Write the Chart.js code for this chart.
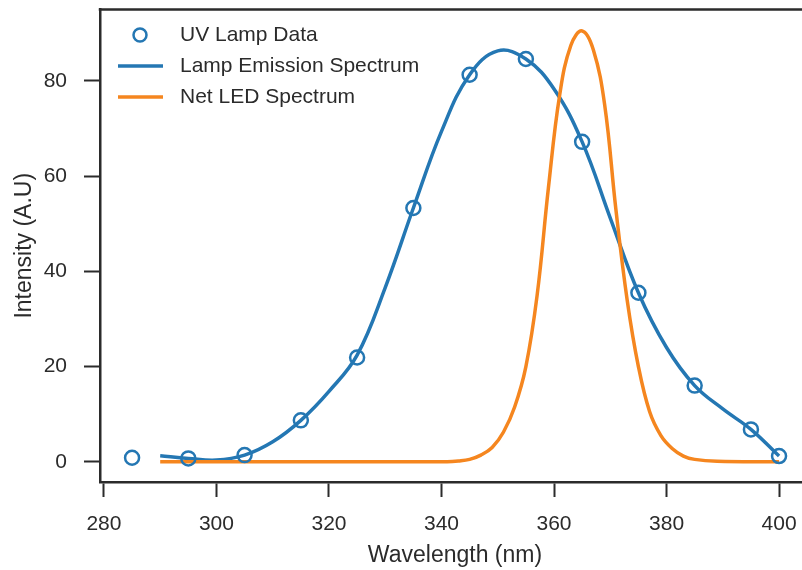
<!DOCTYPE html>
<html>
<head>
<meta charset="utf-8">
<title>UV Lamp vs LED Spectrum</title>
<script src="https://cdn.jsdelivr.net/npm/chart.js@4.4.1/dist/chart.umd.min.js"></script>
<style>
    html, body { margin: 0; padding: 0; background: #fff; overflow: hidden; }
    #wrap { width: 830px; height: 570px; }
</style>
</head>
<body>
<div id="wrap"><canvas id="spectrumChart" width="830" height="570"></canvas></div>
<script>
// Measured lamp intensities (one reading every 10 nm)
const lampWavelengths = [285, 295, 305, 315, 325, 335, 345, 355, 365, 375, 385, 395, 400];
const lampIntensity = [0.85, 0.7, 1.4, 8.7, 21.9, 53.3, 81.3, 84.6, 67.2, 35.5, 16.0, 6.8, 1.2];

// Fitted lamp emission curve
const emissionWavelengths = [290, 295, 300, 305, 310, 315, 320, 325, 330, 335, 340, 345, 350, 355, 360, 365, 370, 375, 380, 385, 390, 395, 400];
const emissionIntensity = [1.25, 0.7, 0.35, 1.4, 4.2, 8.7, 14.8, 22.4, 36.6, 53.3, 69.4, 81.3, 86.3, 84.6, 78.3, 67.2, 51.2, 35.5, 24.0, 16.0, 11.1, 6.8, 1.2];

// Net LED spectrum
const ledWavelengths = [290, 341, 343, 345, 347, 349, 351, 353, 355, 357, 359, 361, 363, 365, 367, 369, 371, 373, 375, 377, 379, 381, 383, 385, 389, 400];
const ledIntensity = [0, 0, 0.15, 0.5, 1.4, 3.0, 6.2, 11.5, 20.0, 35.0, 57.5, 77.0, 87.5, 90.5, 86.5, 75.0, 53.0, 34.0, 20.0, 10.5, 5.5, 2.8, 1.2, 0.5, 0.1, 0];

// Axis ticks
const xTicks = [280, 300, 320, 340, 360, 380, 400];
const yTicks = [0, 20, 40, 60, 80];

const seriesNames = ['UV Lamp Data', 'Lamp Emission Spectrum', 'Net LED Spectrum'];

const BLUE = '#2477b3';
const ORANGE = '#f5861f';
const INK = '#2b2b2b';
const FONT = '"Liberation Sans", Arial, sans-serif';

function toPoints(xs, ys) {
    return xs.map((x, i) => ({ x: x, y: ys[i] }));
}

// Top and right frame lines plus an in-plot legend
const framePlugin = {
    id: 'frame',
    afterDraw(chart) {
        const { ctx, chartArea } = chart;
        ctx.save();
        ctx.strokeStyle = INK;
        ctx.lineWidth = 2.5;
        ctx.beginPath();
        ctx.moveTo(chartArea.left - 1.25, chartArea.top);
        ctx.lineTo(chartArea.right, chartArea.top);
        ctx.lineTo(chartArea.right, chartArea.bottom);
        ctx.stroke();

        // legend
        ctx.font = '21px ' + FONT;
        ctx.textBaseline = 'middle';
        ctx.fillStyle = INK;
        const rows = [35, 66, 97];
        ctx.strokeStyle = BLUE;
        ctx.lineWidth = 2.5;
        ctx.beginPath();
        ctx.arc(140, rows[0], 6.5, 0, Math.PI * 2);
        ctx.stroke();
        ctx.lineWidth = 3.5;
        [BLUE, ORANGE].forEach((c, i) => {
            ctx.strokeStyle = c;
            ctx.beginPath();
            ctx.moveTo(118, rows[i + 1]);
            ctx.lineTo(163, rows[i + 1]);
            ctx.stroke();
        });
        seriesNames.forEach((name, i) => {
            ctx.fillText(name, 180, rows[i]);
        });
        ctx.restore();
    }
};

const ctx = document.getElementById('spectrumChart').getContext('2d');
const spectrumChart = new Chart(ctx, {
    type: 'scatter',
    data: {
        datasets: [
            {
                label: seriesNames[0],
                data: toPoints(lampWavelengths, lampIntensity),
                showLine: false,
                pointStyle: 'circle',
                pointRadius: 7,
                pointBorderWidth: 2.5,
                pointBorderColor: BLUE,
                pointBackgroundColor: 'rgba(0,0,0,0)',
                order: 0
            },
            {
                label: seriesNames[1],
                data: toPoints(emissionWavelengths, emissionIntensity),
                showLine: true,
                borderColor: BLUE,
                borderWidth: 3.5,
                pointRadius: 0,
                tension: 0.4,
                order: 2
            },
            {
                label: seriesNames[2],
                data: toPoints(ledWavelengths, ledIntensity),
                showLine: true,
                borderColor: ORANGE,
                borderWidth: 3.5,
                pointRadius: 0,
                tension: 0.4,
                order: 1
            }
        ]
    },
    options: {
        responsive: false,
        animation: false,
        layout: { padding: { top: 7, right: 20, left: 0, bottom: 0 } },
        plugins: {
            legend: { display: false },
            tooltip: { enabled: false }
        },
        scales: {
            x: {
                type: 'linear',
                min: 279.3,
                max: 405.5,
                afterBuildTicks(scale) { scale.ticks = xTicks.map(v => ({ value: v })); },
                afterFit(scale) { scale.height = 88; scale.paddingLeft = 0; scale.paddingRight = 0; },
                border: { display: true, color: INK, width: 2.5 },
                grid: { drawOnChartArea: false, drawTicks: true, tickLength: 15, tickColor: INK, tickWidth: 2 },
                ticks: { color: INK, font: { family: FONT, size: 21 }, padding: 15, maxRotation: 0 },
                title: { display: true, text: 'Wavelength (nm)', color: INK, font: { family: FONT, size: 23 }, padding: { top: 0, bottom: 1 } }
            },
            y: {
                type: 'linear',
                min: -4.25,
                max: 95,
                afterBuildTicks(scale) { scale.ticks = yTicks.map(v => ({ value: v })); },
                afterFit(scale) { scale.width = 100; scale.paddingTop = 0; scale.paddingBottom = 0; },
                border: { display: true, color: INK, width: 2.5 },
                grid: { drawOnChartArea: false, drawTicks: true, tickLength: 16, tickColor: INK, tickWidth: 2 },
                ticks: { color: INK, font: { family: FONT, size: 21 }, padding: 17 },
                title: { display: true, text: 'Intensity (A.U)', color: INK, font: { family: FONT, size: 23 }, padding: { top: 11, bottom: 0 } }
            }
        }
    },
    plugins: [framePlugin]
});
</script>
</body>
</html>
